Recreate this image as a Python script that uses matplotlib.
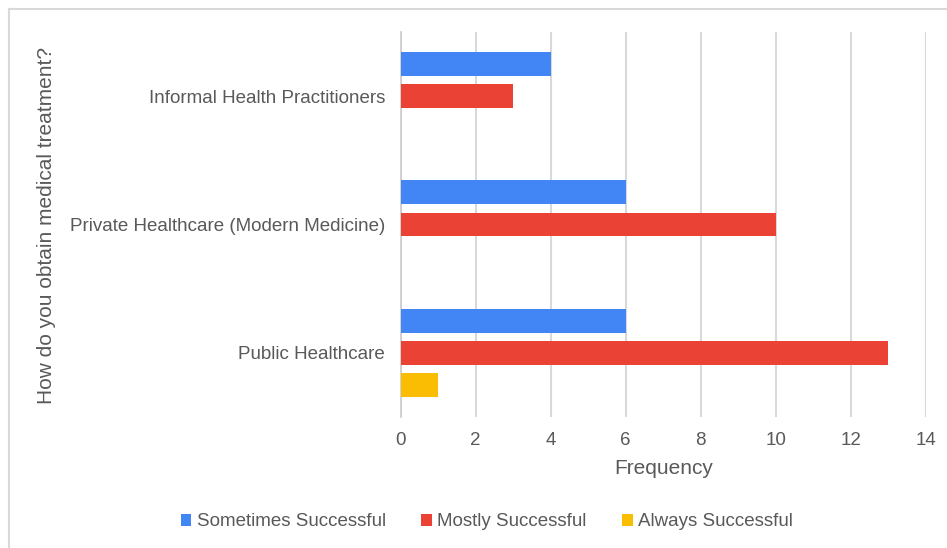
import numpy as np
import matplotlib
matplotlib.use("Agg")
import matplotlib.pyplot as plt
from matplotlib.patches import Patch
from matplotlib.lines import Line2D

plt.rcParams['font.family'] = ['Liberation Sans', 'DejaVu Sans']

# treatment sources, bottom to top
categories = ["Public Healthcare", "Private Healthcare (Modern Medicine)", "Informal Health Practitioners"]
series_names = ["Sometimes Successful", "Mostly Successful", "Always Successful"]
sometimes = [6, 6, 4]
mostly = [13, 10, 3]
always = [1, 0, 0]
colors = ["#4285F4", "#EA4335", "#FBBC04"]
xticks = [0, 2, 4, 6, 8, 10, 12, 14]

txt = "#595959"

fig = plt.figure(figsize=(9.47, 5.48), dpi=100)
ax = fig.add_axes([400.5 / 947, 1 - 417 / 548, (926 - 400.5) / 947, (417 - 32) / 548])

y = np.arange(len(categories))
h = 0.187
offsets = [0.25, 0.0, -0.25]
for vals, off, c, name in zip([sometimes, mostly, always], offsets, colors, series_names):
    ax.barh(y + off, vals, height=h, color=c, label=name, zorder=3)

ax.set_xlim(0, 14)
ax.set_ylim(-0.5, 2.5)
ax.set_xticks(xticks)
ax.set_yticks(y)
ax.set_yticklabels(categories)
ax.tick_params(axis="both", length=0, labelsize=13.5, colors=txt)
ax.tick_params(axis="x", pad=11)
ax.tick_params(axis="y", pad=11)
ax.grid(axis="x", color="#d9d9d9", linewidth=1.5, zorder=0)
for s in ["top", "right", "bottom"]:
    ax.spines[s].set_visible(False)
ax.spines["left"].set_color("#cccccc")
ax.spines["left"].set_linewidth(1.2)

ax.set_xlabel("Frequency", fontsize=15, color=txt, labelpad=7)
fig.text(47 / 947, 1 - 225 / 548, "How do you obtain medical treatment?", rotation=90,
         ha="center", va="center", fontsize=15, color=txt)

handles = [Patch(facecolor=c, edgecolor="none") for c in colors]
fig.legend(handles, series_names, loc="center", bbox_to_anchor=(487 / 947, 1 - 522 / 548),
           ncol=3, frameon=False, fontsize=13.5, handlelength=0.55, handleheight=0.55,
           handletextpad=0.3, columnspacing=1.9, labelcolor=txt)

# outer border (top and left edges)
fig.add_artist(Line2D([8.5 / 947, 1], [1 - 8.5 / 548, 1 - 8.5 / 548], color="#d9d9d9", linewidth=1.5))
fig.add_artist(Line2D([8.5 / 947, 8.5 / 947], [0, 1 - 8.5 / 548], color="#d9d9d9", linewidth=1.5))

fig.savefig("out.png", dpi=100)
